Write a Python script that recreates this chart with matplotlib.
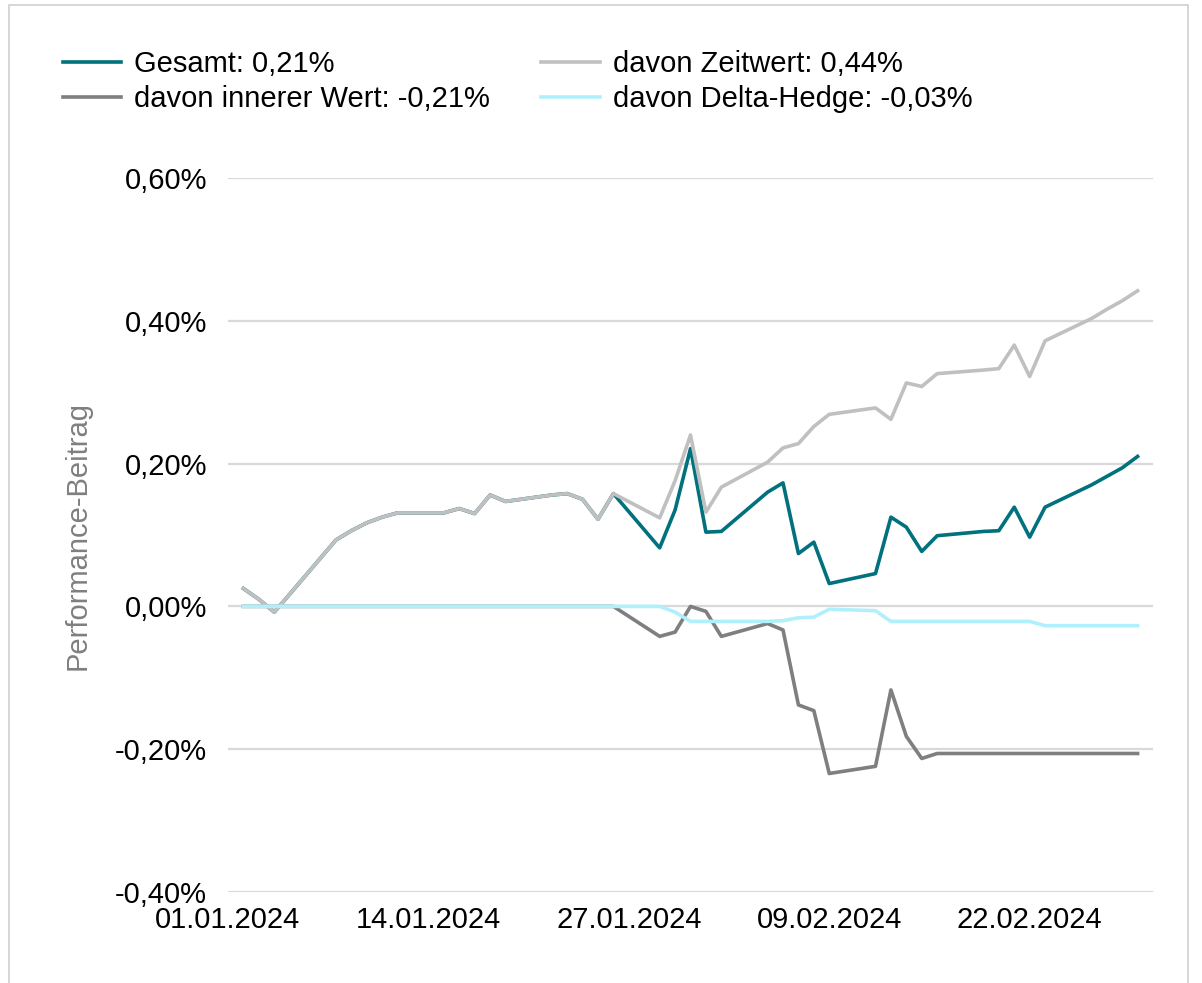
import matplotlib
matplotlib.use("Agg")
import matplotlib.pyplot as plt
import matplotlib.dates as mdates
from matplotlib.patches import Rectangle
import pandas as pd

plt.rcParams['font.family'] = ['Liberation Sans', 'DejaVu Sans']

# business days with data
dates = ["02.01.2024", "03.01.2024", "04.01.2024", "05.01.2024", "08.01.2024",
         "09.01.2024", "10.01.2024", "11.01.2024", "12.01.2024", "15.01.2024",
         "16.01.2024", "17.01.2024", "18.01.2024", "19.01.2024", "22.01.2024",
         "23.01.2024", "24.01.2024", "25.01.2024", "26.01.2024", "29.01.2024",
         "30.01.2024", "31.01.2024", "01.02.2024", "02.02.2024", "05.02.2024",
         "06.02.2024", "07.02.2024", "08.02.2024", "09.02.2024", "12.02.2024",
         "13.02.2024", "14.02.2024", "15.02.2024", "16.02.2024", "19.02.2024",
         "20.02.2024", "21.02.2024", "22.02.2024", "23.02.2024", "26.02.2024",
         "27.02.2024", "28.02.2024", "29.02.2024"]

# values in percent
gesamt = [0.025, 0.010, -0.008, 0.017, 0.093, 0.106, 0.117, 0.125, 0.131, 0.131,
          0.137, 0.130, 0.156, 0.147, 0.156, 0.158, 0.150, 0.122, 0.158, 0.082,
          0.135, 0.221, 0.104, 0.105, 0.160, 0.173, 0.074, 0.090, 0.032, 0.046,
          0.125, 0.111, 0.077, 0.099, 0.105, 0.106, 0.139, 0.097, 0.139, 0.170,
          0.182, 0.194, 0.210]
innerer = [0, 0, 0, 0, 0, 0, 0, 0, 0, 0,
           0, 0, 0, 0, 0, 0, 0, 0, 0, -0.042,
           -0.036, 0.0, -0.007, -0.042, -0.024, -0.033, -0.138, -0.146, -0.234, -0.224,
           -0.117, -0.182, -0.213, -0.206, -0.206, -0.206, -0.206, -0.206, -0.206, -0.206,
           -0.206, -0.206, -0.206]
zeitwert = [0.025, 0.010, -0.008, 0.017, 0.093, 0.106, 0.117, 0.125, 0.131, 0.131,
            0.137, 0.130, 0.156, 0.147, 0.156, 0.158, 0.150, 0.122, 0.158, 0.124,
            0.176, 0.240, 0.132, 0.167, 0.202, 0.222, 0.228, 0.252, 0.269, 0.278,
            0.262, 0.313, 0.308, 0.326, 0.331, 0.333, 0.366, 0.322, 0.372, 0.403,
            0.416, 0.428, 0.442]
delta = [0, 0, 0, 0, 0, 0, 0, 0, 0, 0,
         0, 0, 0, 0, 0, 0, 0, 0, 0, 0,
         -0.008, -0.021, -0.021, -0.021, -0.021, -0.020, -0.016, -0.015, -0.004, -0.006,
         -0.021, -0.021, -0.021, -0.021, -0.021, -0.021, -0.021, -0.021, -0.027, -0.027,
         -0.027, -0.027, -0.027]

labels = ["Gesamt: 0,21%", "davon innerer Wert: -0,21%",
          "davon Zeitwert: 0,44%", "davon Delta-Hedge: -0,03%"]
colors = ["#00717d", "#7f7f7f", "#c0c0c0", "#b0f0fc"]

tick_dates = ["01.01.2024", "14.01.2024", "27.01.2024", "09.02.2024", "22.02.2024"]
y_ticks = [-0.4, -0.2, 0.0, 0.2, 0.4, 0.6]

x = pd.to_datetime(dates, format="%d.%m.%Y")

fig = plt.figure(figsize=(12.02, 9.83), dpi=100)
ax = fig.add_axes([228 / 1202, 91 / 983, 925 / 1202, 714 / 983])

# outer frame
fig.patches.append(Rectangle((9 / 1202, -0.01), 1179 / 1202, 1 - 5 / 983 + 0.01,
                             transform=fig.transFigure, fill=False,
                             edgecolor="#d0d0d0", linewidth=1.2))

lines = []
for series, lab, col in zip([gesamt, innerer, zeitwert, delta], labels, colors):
    ln, = ax.plot(x, series, color=col, linewidth=2.6, label=lab, zorder=3)
    lines.append(ln)

ax.set_ylim(-0.4, 0.6)
ax.set_xlim(pd.Timestamp("2024-01-01"), pd.Timestamp("2024-03-01"))
ax.set_yticks(y_ticks)
ax.set_yticklabels([f"{v:.2f}%".replace(".", ",") for v in y_ticks])
ax.set_xticks(pd.to_datetime(tick_dates, format="%d.%m.%Y"))
ax.xaxis.set_major_formatter(mdates.DateFormatter("%d.%m.%Y"))
ax.tick_params(axis="both", length=0, labelsize=21)
ax.tick_params(axis="y", pad=15)
ax.tick_params(axis="x", pad=10)

ax.grid(axis="y", color="#d9d9d9", linewidth=1.6, zorder=0)
for s in ax.spines.values():
    s.set_visible(False)

fig.text(78 / 1202, 1 - 535 / 983, "Performance-Beitrag", rotation=90,
         ha="center", va="center", fontsize=21, color="#7f7f7f")

fig.legend(handles=lines, loc="upper left", bbox_to_anchor=(63 / 1202, 1 - 50 / 983),
           ncol=2, frameon=False, fontsize=21, handlelength=2.0, handletextpad=0.45,
           columnspacing=1.75, labelspacing=0.25, borderpad=0, borderaxespad=0)

fig.savefig("out.png", dpi=100)
